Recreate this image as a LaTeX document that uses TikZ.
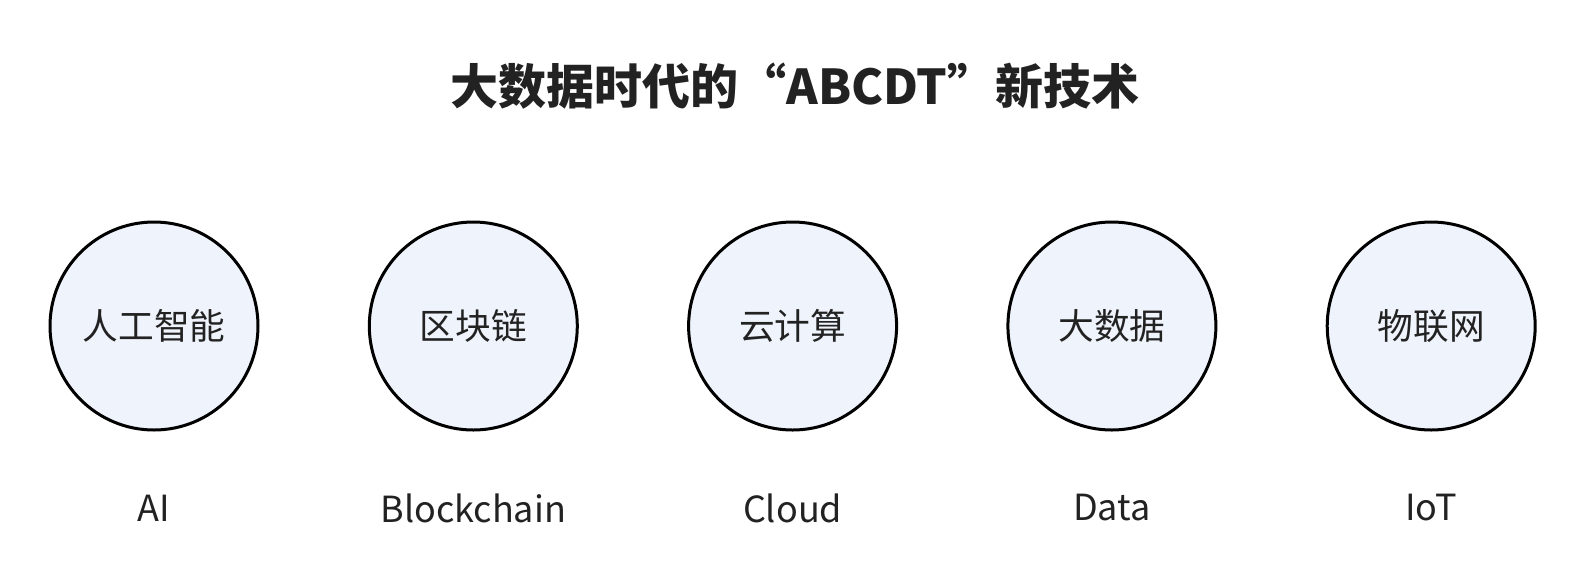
\documentclass[tikz,border=0pt]{standalone}
\usepackage{fontspec}
\setmainfont{Noto Sans CJK SC}
\usepackage{xcolor}
\usetikzlibrary{positioning}
\definecolor{techfill}{HTML}{EFF3FB}
\definecolor{inkgray}{HTML}{222222}

\begin{document}
\begin{tikzpicture}[
  x=1pt,y=-1pt,
  node distance=108.3pt,
  tech/.style={draw=black,circle,line width=3pt,fill=techfill,
               minimum size=208pt,inner sep=0pt,text=inkgray,
               font=\fontsize{35.7}{42}\selectfont},
  tag/.style={text=inkgray,inner sep=0pt,font=\fontsize{36}{42}\selectfont},
  headline/.style={text=inkgray,inner sep=0pt,
                   font=\fontsize{48}{56}\selectfont\bfseries}
]
\useasboundingbox (0,0) rectangle (1586,582);
\node[headline] (title) at (795,86) {大数据时代的“ABCDT”新技术};
\node[tech] (ai) at (154,326) {人工智能};
\node[tech,right=of ai] (bc) {区块链};
\node[tech,right=of bc] (cloud) {云计算};
\node[tech,right=of cloud] (data) {大数据};
\node[tech,right=of data] (iot) {物联网};
\node[tag] (ailbl) at ([yshift=-182pt]ai.center) {AI};
\node[tag] (bclbl) at ([yshift=-182pt]bc.center) {Blockchain};
\node[tag] (cloudlbl) at ([yshift=-182pt]cloud.center) {Cloud};
\node[tag] (datalbl) at ([yshift=-182pt]data.center) {Data};
\node[tag] (iotlbl) at ([yshift=-182pt]iot.center) {IoT};
\end{tikzpicture}
\end{document}
